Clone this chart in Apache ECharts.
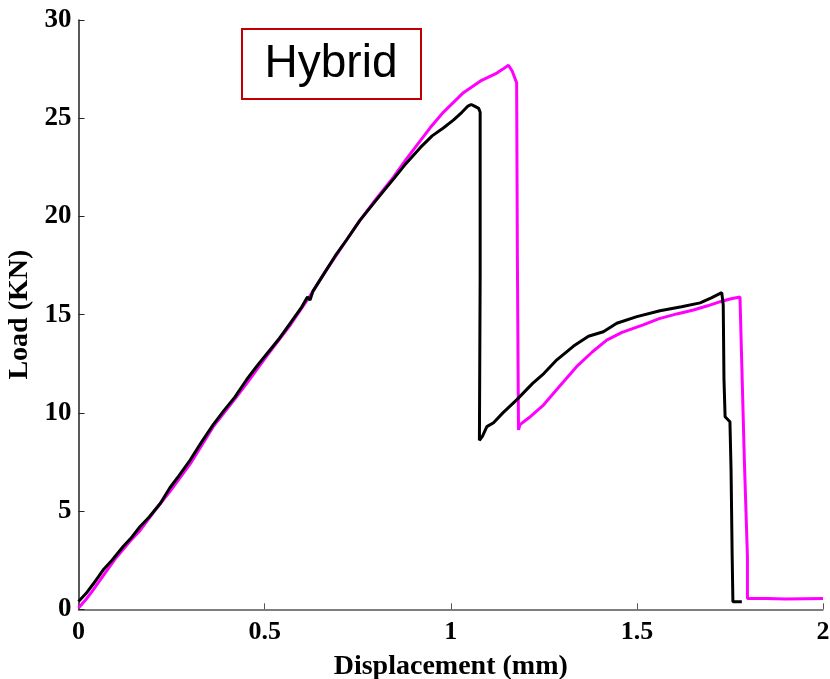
<!DOCTYPE html>
<html>
<head>
<meta charset="utf-8">
<title>Hybrid load-displacement</title>
<script src="https://cdn.jsdelivr.net/npm/echarts@6/dist/echarts.min.js"></script>
<style>
  html, body { margin: 0; padding: 0; background: #fff; }
  #chart { width: 830px; height: 679px; }
</style>
</head>
<body>
<div id="chart"></div>
<script>
// Axis ticks
const xTicks = [0, 0.5, 1, 1.5, 2];
const yTicks = [0, 5, 10, 15, 20, 25, 30];

// Specimen 1 (black): [displacement mm, load kN]
const specimenBlack = [
  [0, 0.4], [0.02, 0.8], [0.04, 1.3], [0.066, 2.0], [0.09, 2.5], [0.12, 3.2],
  [0.14, 3.6], [0.165, 4.2], [0.19, 4.7], [0.22, 5.4], [0.246, 6.2], [0.27, 6.8],
  [0.30, 7.6], [0.33, 8.5], [0.362, 9.4], [0.39, 10.1], [0.42, 10.8], [0.452, 11.7],
  [0.48, 12.4], [0.51, 13.1], [0.54, 13.8], [0.57, 14.6], [0.60, 15.4], [0.615, 15.9],
  [0.622, 15.75], [0.63, 16.2], [0.66, 17.1], [0.69, 18.0], [0.72, 18.8], [0.756, 19.8],
  [0.79, 20.6], [0.82, 21.3], [0.846, 21.9], [0.88, 22.7], [0.918, 23.5], [0.95, 24.1],
  [0.98, 24.5], [1.007, 24.9], [1.03, 25.3], [1.045, 25.6], [1.055, 25.7], [1.065, 25.6],
  [1.075, 25.5], [1.079, 25.3], [1.079, 17.0], [1.077, 16.9], [1.077, 8.6], [1.085, 8.8],
  [1.097, 9.3], [1.115, 9.5], [1.14, 10.0], [1.177, 10.66], [1.22, 11.5], [1.25, 12.0],
  [1.285, 12.7], [1.33, 13.4], [1.37, 13.9], [1.41, 14.13], [1.446, 14.56], [1.5, 14.9],
  [1.562, 15.2], [1.62, 15.4], [1.67, 15.6], [1.70, 15.85], [1.728, 16.12], [1.732, 15.5],
  [1.734, 11.7], [1.737, 9.8], [1.75, 9.55], [1.753, 7.1], [1.756, 2.7], [1.758, 0.39],
  [1.782, 0.39]
];

// Specimen 2 (magenta): [displacement mm, load kN]
const specimenMagenta = [
  [0, 0.07], [0.02, 0.5], [0.04, 1.0], [0.066, 1.7], [0.1, 2.6], [0.14, 3.5],
  [0.165, 4.0], [0.2, 4.9], [0.246, 6.0], [0.3, 7.4], [0.362, 9.3], [0.42, 10.7],
  [0.452, 11.5], [0.51, 13.0], [0.57, 14.5], [0.62, 15.9], [0.66, 17.1], [0.72, 18.8],
  [0.756, 19.8], [0.80, 20.9], [0.846, 22.0], [0.88, 22.9], [0.90, 23.4], [0.92, 23.9],
  [0.944, 24.5], [0.98, 25.3], [1.034, 26.3], [1.08, 26.9], [1.124, 27.3], [1.14, 27.5],
  [1.155, 27.7], [1.165, 27.4], [1.177, 26.8], [1.179, 17.9], [1.182, 17.8], [1.182, 9.13],
  [1.186, 9.4], [1.21, 9.75], [1.249, 10.4], [1.29, 11.3], [1.338, 12.35], [1.38, 13.1],
  [1.419, 13.7], [1.46, 14.1], [1.517, 14.48], [1.56, 14.8], [1.61, 15.05], [1.652, 15.24],
  [1.69, 15.45], [1.724, 15.66], [1.75, 15.8], [1.777, 15.9], [1.782, 12.35], [1.789, 7.43],
  [1.797, 2.68], [1.797, 0.55], [1.85, 0.55], [1.9, 0.53], [2.0, 0.55]
];

const boxLabel = 'Hybrid';
const xName = 'Displacement (mm)';
const yName = 'Load (KN)';

const serifBold = {
  fontFamily: '"Liberation Serif", "DejaVu Serif", serif',
  fontWeight: 'bold',
  color: '#000'
};

const chart = echarts.init(document.getElementById('chart'), null, { renderer: 'canvas' });

chart.setOption({
  animation: false,
  backgroundColor: '#fff',
  grid: {
    left: 78.5, right: 7, top: 20, bottom: 69.7,
    containLabel: false,
    outerBoundsMode: 'none'
  },
  xAxis: {
    type: 'value',
    min: xTicks[0],
    max: xTicks[xTicks.length - 1],
    interval: xTicks[1] - xTicks[0],
    name: xName,
    nameLocation: 'middle',
    nameGap: 43,
    nameTextStyle: Object.assign({ fontSize: 28 }, serifBold),
    axisLine: { show: true, onZero: false, lineStyle: { color: '#555', width: 1.5 } },
    axisTick: { show: true, inside: true, length: 6, lineStyle: { color: '#555', width: 1 } },
    axisLabel: Object.assign({ fontSize: 26, margin: 10 }, serifBold),
    splitLine: { show: false }
  },
  yAxis: {
    type: 'value',
    min: yTicks[0],
    max: yTicks[yTicks.length - 1],
    interval: yTicks[1] - yTicks[0],
    name: yName,
    nameLocation: 'middle',
    nameGap: 44,
    nameRotate: 90,
    nameTextStyle: Object.assign({ fontSize: 28 }, serifBold),
    axisLine: { show: true, onZero: false, lineStyle: { color: '#222', width: 1.5 } },
    axisTick: { show: true, inside: true, length: 6, lineStyle: { color: '#222', width: 1 } },
    axisLabel: Object.assign({ fontSize: 27, margin: 7 }, serifBold),
    splitLine: { show: false }
  },
  graphic: [
    {
      type: 'rect',
      shape: { x: 242, y: 29, width: 179, height: 70 },
      style: { fill: '#fff', stroke: '#c00000', lineWidth: 2 },
      z: 10
    },
    {
      type: 'text',
      x: 331, y: 64,
      style: {
        text: boxLabel,
        fontFamily: '"Liberation Sans", Arial, sans-serif',
        fontSize: 46,
        fill: '#000',
        align: 'center',
        verticalAlign: 'middle'
      },
      z: 11
    }
  ],
  series: [
    {
      type: 'line',
      data: specimenMagenta,
      showSymbol: false,
      symbol: 'none',
      lineStyle: { color: '#ff00ff', width: 3 },
      z: 2
    },
    {
      type: 'line',
      data: specimenBlack,
      showSymbol: false,
      symbol: 'none',
      lineStyle: { color: '#000', width: 3 },
      z: 3
    }
  ]
});
</script>
</body>
</html>
